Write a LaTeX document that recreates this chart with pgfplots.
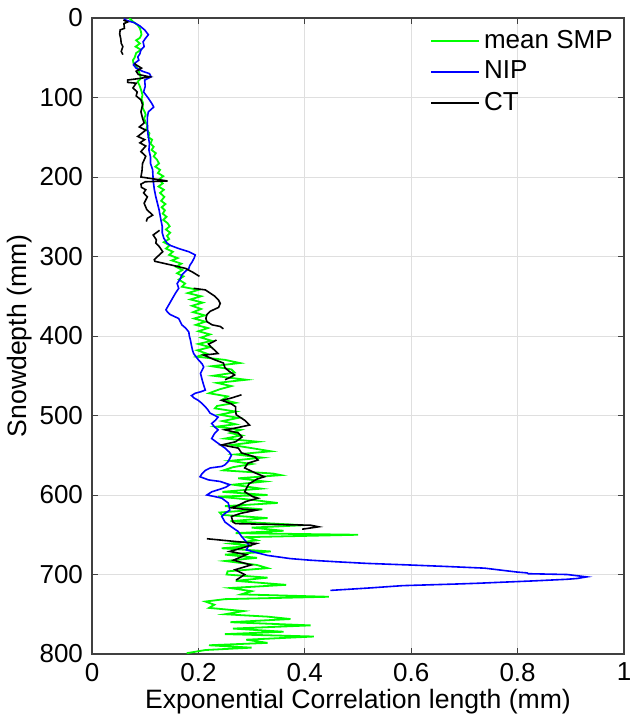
\documentclass[border=0pt]{standalone}
\usepackage{fontspec}
\setmainfont{Liberation Sans}
\usepackage{pgfplots}
\usepackage{pgfplotstable}
\pgfplotsset{compat=1.18}

\pgfplotstableread{
x y
.070 0
.076 4
.086 9
.090 13
.092 17
.093 21
.090 25
.083 28
.090 32
.082 36
.092 40
.083 44
.080 50
.077 53
.078 57
.085 63
.088 67
.090 71
.092 76
.086 80
.090 86
.093 92
.095 97
.093 102
.096 107
.095 113
.099 118
.101 122
.098 126
.100 130
.104 135
.102 140
.108 145
.106 150
.113 153
.110 158
.116 162
.112 166
.120 170
.116 174
.122 178
.126 183
.119 187
.128 191
.124 195
.134 199
.126 203
.133 208
.125 212
.135 216
.128 220
.136 225
.130 230
.138 234
.131 238
.137 242
.133 246
.140 250
.134 254
.142 258
.146 262
.139 266
.147 270
.141 274
.145 278
.135 282
.146 286
.139 290
.152 294
.145 298
.161 302
.150 305
.168 309
.158 313
.170 317
.160 321
.172 325
.163 329
.175 334
.169 338
.200 342
.180 346
.205 350
.185 354
.208 358
.188 362
.205 366
.190 370
.212 374
.192 378
.213 382
.195 386
.218 390
.200 394
.222 398
.205 402
.225 406
.200 410
.222 414
.198 418
.215 422
.197 426
.250 430
.278 434
.225 438
.262 442
.268 446
.228 450
.290 455
.235 459
.262 463
.240 467
.220 472
.255 476
.245 480
.270 484
.235 488
.231 491
.270 495
.240 499
.275 503
.245 507
.270 511
.234 514
.280 518
.260 522
.281 525
.250 529
.312 533
.262 537
.300 541
.336 545
.270 549
.320 553
.260 557
.300 561
.265 565
.247 569
.340 573
.355 575
.275 579
.325 583
.265 587
.318 592
.245 596
.330 600
.237 602
.300 606
.349 610
.250 614
.320 618
.240 622
.244 625
.330 629
.260 633
.398 638
.300 641
.360 645
.270 648
.500 650
.290 653
.310 657
.260 661
.300 664
.244 667
.336 671
.250 675
.310 679
.250 683
.310 688
.330 692
.255 696
.253 700
.330 704
.270 708
.365 713
.260 717
.300 721
.280 725
.445 728
.250 731
.213 734
.230 738
.220 742
.285 746
.250 750
.330 753
.373 756
.260 760
.411 764
.265 768
.360 772
.250 775
.417 778
.290 782
.330 786
.220 789
.300 792
.213 795
.178 799
}\smpdata

\pgfplotstableread{
x y
.060 1
.065 3
.080 6
.090 10
.099 15
.106 21
.100 26
.096 30
.098 36
.092 40
.090 45
.086 49
.088 53
.080 57
.078 59
.083 63
.095 67
.108 70
.111 74
.099 78
.100 86
.097 93
.106 101
.112 107
.116 112
.106 118
.104 125
.104 132
.105 145
.108 158
.107 166
.110 175
.110 183
.114 191
.115 204
.117 215
.120 225
.123 233
.126 241
.129 252
.132 262
.132 270
.135 277
.141 283
.147 286
.163 290
.182 294
.194 298
.192 302
.188 307
.184 311
.182 315
.175 319
.169 323
.166 328
.160 334
.163 340
.157 346
.151 353
.145 360
.139 367
.142 370
.147 373
.163 378
.166 382
.169 386
.176 390
.182 395
.183 400
.185 405
.187 412
.189 418
.191 422
.200 430
.207 435
.210 439
.207 443
.204 447
.207 455
.210 462
.213 468
.205 470
.194 472
.187 475
.192 478
.200 481
.207 485
.213 489
.218 493
.222 497
.237 502
.232 506
.225 510
.230 514
.237 518
.230 523
.225 529
.235 534
.250 541
.258 546
.262 550
.259 554
.256 558
.250 562
.244 564
.222 566
.213 569
.207 573
.203 577
.219 581
.241 583
.259 587
.252 590
.244 592
.225 596
.216 600
.231 602
.244 604
.256 610
.258 615
.259 619
.250 623
.244 627
.250 634
.262 640
.275 646
.281 652
.290 659
.295 663
.290 669
.312 673
.330 676
.373 680
.410 682
.460 684
.516 686
.596 688
.670 690
.738 692
.775 695
.800 697
.818 698
.820 699
.893 700
.930 703
.912 705
.893 706
.831 708
.760 710
.726 711
.683 712
.584 714
.520 717
.448 720
}\nipdata

\pgfplotstableread{
x y
.059 2.5
.067 5
.060 7
.061 13
.053 15
.052 20
.054 26
.055 32
.058 36
.055 42
.058 46
nan nan
.080 57
.083 59
.093 63
.083 67
.087 71
.108 74
.090 76
.067 78
.067 81
.083 82
.077 88
.085 93
.083 98
.092 103
.095 109
.092 118
.095 126
.098 132
.089 137
.101 141
.086 149
.099 153
.090 157
.101 161
.092 168
.101 174
.095 183
.094 192
.092 200
.142 205
.100 206
.092 209
.093 213
.101 216
.097 220
.104 225
.098 233
.103 241
.111 246
.114 248
.104 252
.102 256
nan nan
.127 267
.115 273
.121 279
.120 283
.127 288
.133 294
.128 297
.117 304
.118 306
.151 311
.176 315
.190 320
.202 325
nan nan
.191 340
.213 342
.222 346
.231 350
.238 355
.241 359
.238 364
.222 369
.216 373
.214 378
.216 382
.226 386
.241 388
.247 391
nan nan
.234 405
.226 408
.219 410
.224 414
.231 418
.237 422
.210 424
.231 430
.247 434
.250 440
.259 445
.268 449
.260 452
.250 455
nan nan
.281 474
.262 478
.244 481
.261 485
.270 489
.270 494
.271 499
.287 506
.296 512
.268 516
.250 518
.275 522
.282 527
.270 533
.244 537
.275 541
.281 547
.306 552
.312 556
.293 560
.287 566
.306 572
.324 577
.310 580
.295 586
.290 592
.287 596
.302 602
.312 604
.290 608
.275 613
.262 616
.287 618
.309 619
.280 623
.262 627
.265 634
.270 636
.411 638
.426 640
.395 643
nan nan
.216 655
.309 661
.285 666
.259 671
.290 675
.266 682
.299 688
.269 694
.287 700
.271 707
}\ctdata

\begin{document}
\fontsize{13}{15.6}\selectfont
\begin{tikzpicture}
\useasboundingbox (-46pt,-31pt) rectangle (271.5pt,327pt);
\begin{axis}[
  at={(0,0)}, anchor=south west,
  scale only axis,
  width=266pt, height=318pt,
  xmin=0, xmax=1, ymin=0, ymax=800,
  y dir=reverse,
  xtick={0,0.2,0.4,0.6,0.8,1},
  ytick={0,100,...,800},
  xticklabels={0,0.2,0.4,0.6,0.8,1},
  tick align=inside,
  tick pos=both,
  major tick length=3pt,
  grid=major,
  major grid style={gray!25, line width=0.4pt},
  axis line style={black!75, line width=0.6pt},
  every tick/.style={black!75, line width=0.5pt},
  /pgf/number format/assume math mode=true,
  tick label style={font=\fontsize{13}{15.6}\selectfont},
  label style={font=\fontsize{13.3}{16}\selectfont},
  xlabel={Exponential Correlation length (mm)},
  ylabel={Snowdepth (mm)},
  xlabel style={yshift=5pt},
  ylabel style={yshift=-5pt},
  unbounded coords=jump,
  legend style={draw=none, fill=none, at={(0.635,0.988)}, anchor=north west,
    font=\fontsize{13}{15.6}\selectfont, row sep=0.5pt, inner sep=0pt,
    /tikz/every even column/.append style={column sep=3pt}},
  legend cell align=left,
  legend image code/.code={\draw[#1] (0pt,0pt) -- (24pt,0pt);},
]
\addplot[color={rgb,1:red,0;green,1;blue,0}, line width=0.9pt] table[x=x,y=y] {\smpdata};
\addlegendentry{mean SMP}
\addplot[color={rgb,1:red,0;green,0;blue,1}, line width=0.8pt] table[x=x,y=y] {\nipdata};
\addlegendentry{NIP}
\addplot[color=black, line width=0.8pt] table[x=x,y=y] {\ctdata};
\addlegendentry{CT}
\end{axis}
\end{tikzpicture}
\end{document}
